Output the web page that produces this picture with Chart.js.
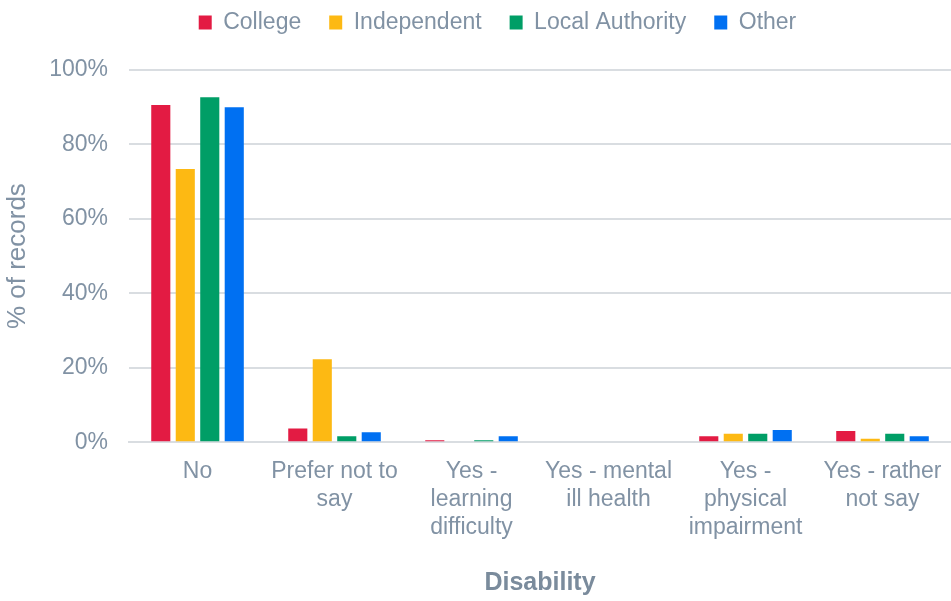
<!DOCTYPE html>
<html>
<head>
<meta charset="utf-8">
<script src="https://cdn.jsdelivr.net/npm/chart.js@4"></script>
<style>
  html, body { margin: 0; padding: 0; background: #fff; }
  #wrap { width: 951px; height: 601px; }
</style>
</head>
<body>
<div id="wrap"><canvas id="myChart" width="951" height="601"></canvas></div>
<script>
// Categories (wrapped the way the original labels are)
const categories = [
  "No",
  ["Prefer not to", "say"],
  ["Yes -", "learning", "difficulty"],
  ["Yes - mental", "ill health"],
  ["Yes -", "physical", "impairment"],
  ["Yes - rather", "not say"]
];

// % of records per school type
const college      = [90.6, 3.7, 0.5, 0, 1.6, 3.0];
const independent  = [73.4, 22.3, 0, 0, 2.3, 0.9];
const localAuth    = [92.7, 1.6, 0.5, 0, 2.3, 2.3];
const other        = [90.0, 2.7, 1.6, 0, 3.3, 1.6];

const yTicks = [0, 20, 40, 60, 80, 100];

const TEXT = "#8192a4";
const FONT = "'Liberation Sans', Arial, sans-serif";

// nudge the legend: more room below it, and shifted a little right
const legendTweak = {
  id: 'legendTweak',
  beforeInit(chart) {
    const fit = chart.legend.fit;
    chart.legend.fit = function () {
      fit.call(this);
      this.height += 26;
      this.lineWidths[0] -= 42;
    };
  }
};

let ctx = document.getElementById('myChart').getContext('2d');
let myChart = new Chart(ctx, {
  type: 'bar',
  data: {
    labels: categories,
    datasets: [
      { label: "College", data: college, backgroundColor: "#e31b43" },
      { label: "Independent", data: independent, backgroundColor: "#fdb913" },
      { label: "Local Authority", data: localAuth, backgroundColor: "#009e66" },
      { label: "Other", data: other, backgroundColor: "#0070f2" }
    ]
  },
  plugins: [legendTweak],
  options: {
    responsive: false,
    animation: false,
    devicePixelRatio: 1,
    categoryPercentage: 0.715,
    barPercentage: 0.78,
    layout: { padding: { top: -17, right: 0, left: 2, bottom: 0 } },
    plugins: {
      legend: {
        position: 'top',
        labels: {
          color: TEXT,
          font: { family: FONT, size: 23 },
          boxWidth: 13,
          boxHeight: 14,
          padding: 28
        }
      },
      tooltip: { enabled: false }
    },
    scales: {
      x: {
        grid: { display: false },
        border: { display: true, color: "#d9dde1", width: 2 },
        ticks: {
          color: TEXT,
          font: { family: FONT, size: 23 },
          maxRotation: 0,
          autoSkip: false,
          padding: 8
        },
        title: {
          display: true,
          text: "Disability",
          color: "#7a8b9c",
          font: { family: FONT, size: 25, weight: 'bold' },
          padding: { top: 19, bottom: 3 }
        }
      },
      y: {
        min: 0,
        max: 100,
        afterBuildTicks: axis => { axis.ticks = yTicks.map(v => ({ value: v })); },
        grid: { color: "#d9dde1", lineWidth: 2, drawTicks: false },
        border: { display: false },
        ticks: {
          color: TEXT,
          font: { family: FONT, size: 23 },
          padding: 21,
          callback: v => v + "%"
        },
        title: {
          display: true,
          text: "% of records",
          color: TEXT,
          font: { family: FONT, size: 26 },
          padding: { top: 0, bottom: -5 }
        }
      }
    }
  }
});
</script>
</body>
</html>
